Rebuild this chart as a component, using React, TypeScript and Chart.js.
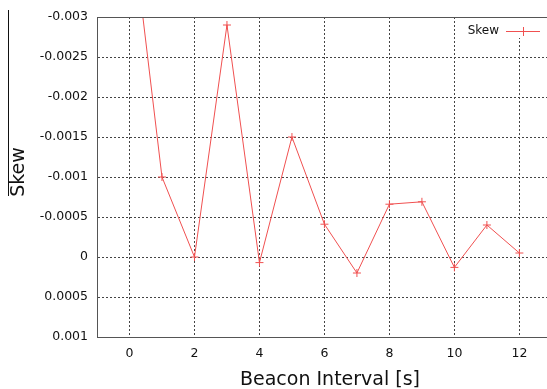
import React, { useEffect, useRef } from "react";
import { Chart, registerables } from "chart.js";

Chart.register(...registerables);

const seriesLabel = "Skew";
const xValues = [0, 1, 2, 3, 4, 5, 6, 7, 8, 9, 10, 11, 12];
const skewValues = [-0.0044, -0.001, 0.0, -0.0029, 0.00007, -0.0015, -0.00041, 0.0002, -0.00066, -0.00069, 0.00013, -0.0004, -0.00005];
const xTicks = [0, 2, 4, 6, 8, 10, 12];
const yTicks = [-0.003, -0.0025, -0.002, -0.0015, -0.001, -0.0005, 0, 0.0005, 0.001];
const xTitle = "Beacon Interval [s]";
const yTitle = "Skew";

const FONT = "'DejaVu Sans', sans-serif";
const RED = "rgb(240,80,80)";

export default function App() {
  const ref = useRef<HTMLCanvasElement>(null);
  useEffect(() => {
    const canvas = ref.current!;
    const overlay = {
      id: "overlay",
      afterDraw(chart: any) {
        const ctx = chart.ctx;
        const a = chart.chartArea;
        ctx.save();
        // top border
        ctx.strokeStyle = "#555";
        ctx.lineWidth = 1;
        ctx.beginPath();
        ctx.moveTo(a.left, a.top + 0.5);
        ctx.lineTo(a.right, a.top + 0.5);
        ctx.stroke();
        // x title
        ctx.fillStyle = "#111";
        ctx.font = `19px ${FONT}`;
        ctx.textAlign = "center";
        ctx.textBaseline = "alphabetic";
        ctx.fillText(xTitle, 330, 385);
        // y title rotated with overline
        ctx.save();
        ctx.translate(24, 172);
        ctx.rotate(-Math.PI / 2);
        ctx.fillText(yTitle, 0, 0);
        ctx.restore();
        ctx.strokeStyle = "#111";
        ctx.beginPath();
        ctx.moveTo(8.5, 10);
        ctx.lineTo(8.5, 196);
        ctx.stroke();
        // legend
        const ds = chart.data.datasets[0];
        ctx.fillStyle = "#fff";
        ctx.fillRect(463, 18, 84, 20);
        ctx.font = `12px ${FONT}`;
        ctx.textAlign = "right";
        ctx.textBaseline = "middle";
        ctx.fillStyle = "#111";
        ctx.fillText(ds.label, 499, 31);
        ctx.strokeStyle = RED;
        ctx.lineWidth = 1;
        ctx.beginPath();
        ctx.moveTo(506, 31.5);
        ctx.lineTo(540, 31.5);
        ctx.moveTo(523.5, 27);
        ctx.lineTo(523.5, 36);
        ctx.stroke();
        ctx.restore();
      },
    };
    const chart = new Chart(canvas, {
      type: "line",
      data: {
        datasets: [
          {
            label: seriesLabel,
            data: xValues.map((x, i) => ({ x, y: skewValues[i] })),
            borderColor: RED,
            backgroundColor: RED,
            borderWidth: 1,
            pointStyle: "cross",
            pointRadius: 4,
            pointBorderWidth: 1,
            pointBorderColor: RED,
            tension: 0,
          },
        ],
      },
      options: {
        responsive: false,
        animation: false,
        devicePixelRatio: 1,
        layout: { autoPadding: false, padding: { top: 17, right: 0, left: 0, bottom: 0 } },
        plugins: { legend: { display: false }, tooltip: { enabled: false } },
        scales: {
          x: {
            type: "linear",
            min: -1,
            max: 12.85,
            afterBuildTicks: (s: any) => {
              s.ticks = xTicks.map((v) => ({ value: v }));
            },
            afterFit: (s: any) => {
              s.height = 52;
              s.paddingLeft = 0;
              s.paddingRight = 0;
            },
            grid: { color: "#444", drawTicks: false, lineWidth: 1 },
            border: { display: true, color: "#555", width: 1, dash: [2, 2] },
            ticks: { color: "#111", font: { family: FONT, size: 12.5 }, padding: 9, maxRotation: 0 },
          },
          y: {
            type: "linear",
            reverse: true,
            min: -0.003,
            max: 0.001,
            afterBuildTicks: (s: any) => {
              s.ticks = yTicks.map((v) => ({ value: v }));
            },
            afterFit: (s: any) => {
              s.width = 97;
              s.paddingTop = 0;
              s.paddingBottom = 0;
            },
            grid: { color: "#444", drawTicks: false, lineWidth: 1 },
            border: { display: true, color: "#555", width: 1, dash: [2, 2] },
            ticks: {
              color: "#111",
              font: { family: FONT, size: 12.5 },
              padding: 9,
              callback: (v: any) => String(parseFloat(Number(v).toFixed(6))),
            },
          },
        },
      },
      plugins: [overlay],
    });
    return () => chart.destroy();
  }, []);
  return (
    <div style={{ position: "fixed", left: 0, top: 0, width: 547, height: 389, background: "#fff" }}>
      <canvas ref={ref} width={547} height={389} style={{ display: "block" }} />
    </div>
  );
}
